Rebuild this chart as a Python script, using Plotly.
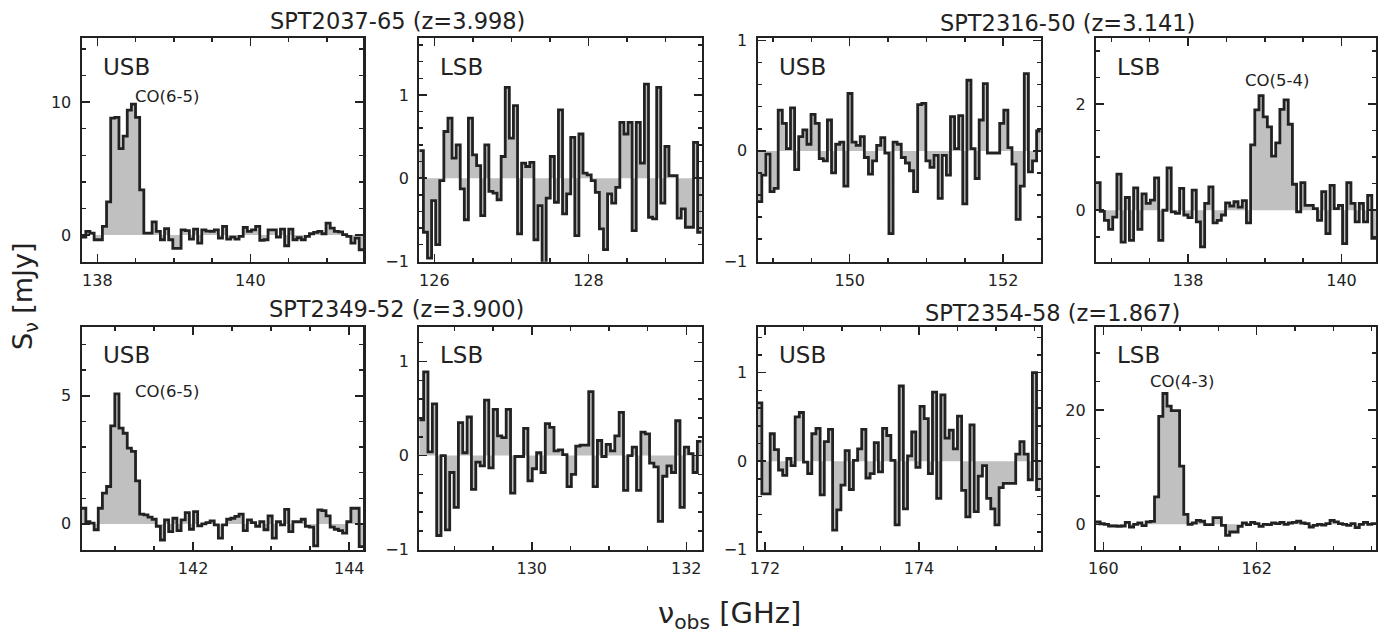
import plotly.graph_objects as go

W, H = 1385, 641

# ---------------- data (flux density per channel, mJy) ----------------
spt2037_usb = [-0.15, 0.28, 0.15, -0.35, -0.35, 0.65, 2.5, 8.8, 8.85, 6.5, 7.45, 9.4, 9.85, 8.85, 3.4,
               0.15, 0.15, 1.0, 0.28, -0.35, 0.48, -0.35, -1.0, -1.0, 0.4, 0.33, -0.3, 0.45, -0.6, 0.4,
               0.3, 0.28, 0.4, -0.22, 0.65, -0.3, -0.15, -0.3, -0.1, 0.58, 0.28, 0.4, 0.65, -0.4, -0.35,
               0.4, 0.4, -0.15, 0.45, -0.8, 0.45, -0.35, -0.2, -0.35, -0.1, 0.1, 0.2, 0.28, 0.1, 0.9,
               0.52, 0.28, 0.25, 0.03, -0.1, -0.6, -0.22, -1.1]
spt2037_lsb = [0.33, -0.65, -0.96, -0.27, -0.8, -0.03, 0.56, 0.72, 0.24, 0.4, -0.13, -0.5, 0.72, 0.28,
               0.15, -0.45, 0.4, -0.16, -0.18, -0.26, 0.26, 1.09, 0.48, 0.87, -0.67, 0.18, 0.14, 0.19,
               -0.74, -0.33, -1.02, -0.24, 0.26, -0.29, 0.82, -0.43, -0.19, 0.49, -0.69, 0.53, 0.06,
               0.04, -0.03, -0.17, -0.61, -0.86, -0.19, -0.3, -0.11, 0.67, 0.53, 0.67, -0.63, 0.67,
               0.18, 1.13, -0.47, -0.49, 1.09, -0.3, 0.38, 0.03, 0.03, -0.48, -0.37, -0.59, -0.59,
               0.43, -0.65]
spt2316_usb = [-0.46, -0.22, -0.03, -0.37, -0.34, 0.37, 0.25, 0.02, 0.39, -0.17, 0.13, 0.19, 0.06, 0.33,
               0.25, -0.07, -0.09, 0.28, -0.2, 0.06, 0.08, -0.32, 0.52, 0.08, 0.05, 0.13, -0.06, -0.21,
               -0.09, 0.05, 0.12, -0.02, -0.75, 0.08, 0.06, -0.06, -0.11, -0.18, -0.37, 0.42, 0.43,
               -0.09, -0.15, -0.04, -0.43, -0.04, -0.22, 0.31, 0.02, 0.32, -0.48, 0.64, 0.02, -0.25,
               0.28, 0.61, -0.02, -0.02, -0.02, 0.25, 0.37, 0.03, -0.12, -0.62, -0.32, 0.70, -0.19,
               -0.09, 0.18]
spt2316_lsb = [0.52, -0.02, -0.19, -0.36, -0.13, 0.68, -0.6, 0.24, -0.57, 0.42, -0.36, 0.31, 0.13, 0.19,
               0.61, -0.57, 0.0, 0.8, -0.03, -0.06, 0.41, -0.09, -0.14, 0.38, -0.22, -0.69, 0.13, 0.44,
               -0.24, -0.19, -0.09, 0.14, 0.08, 0.16, 0.06, 0.18, -0.24, 1.23, 1.89, 2.16, 1.76, 1.57,
               1.02, 1.27, 1.9, 2.08, 1.62, 0.49, -0.03, 0.52, 0.09, 0.09, 0.03, -0.19, 0.35, -0.44,
               0.47, 0.03, 0.09, -0.63, 0.52, 0.13, -0.22, 0.13, -0.22, 0.28, -0.53]
spt2349_usb = [0.61, 0.09, 0.03, -0.23, 0.61, 1.2, 1.46, 3.83, 5.08, 3.74, 3.54, 2.96, 2.83, 1.68, 0.38,
               0.35, 0.26, 0.18, -0.1, -0.63, 0.16, -0.3, 0.22, -0.26, 0.16, 0.44, -0.21, 0.48, -0.08,
               0.0, 0.05, 0.12, -0.04, -0.56, -0.04, 0.18, 0.22, 0.29, 0.38, -0.26, 0.16, 0.05, -0.1,
               0.09, -0.23, 0.31, -0.56, 0.09, -0.04, 0.57, -0.3, 0.09, 0.09, 0.18, -0.1, -0.13, -0.86,
               0.55, 0.52, 0.31, -0.13, -0.21, -0.26, -0.36, 0.09, 0.61, 0.61, -0.89]
spt2349_lsb = [0.38, 0.89, 0.04, 0.55, -0.85, 0.0, -0.79, -0.18, -0.55, 0.35, 0.03, 0.41, -0.36, -0.07,
               -0.11, 0.59, -0.13, 0.49, 0.21, 0.19, 0.49, -0.4, -0.01, -0.01, 0.29, -0.27, -0.14, 0.03,
               -0.18, 0.34, 0.30, 0.05, 0.06, 0.01, -0.33, -0.2, 0.1, 0.11, 0.11, 0.68, -0.33, 0.16,
               -0.01, 0.12, 0.05, 0.21, 0.46, -0.37, 0.0, 0.09, -0.37, 0.25, 0.23, -0.08, -0.12, -0.7,
               -0.22, -0.11, -0.18, 0.37, -0.55, 0.09, 0.02, -0.18, 0.15]
spt2354_usb = [0.66, -0.37, -0.37, 0.31, 0.13, -0.1, -0.16, 0.03, -0.05, 0.5, 0.55, -0.01, -0.14, 0.31,
               0.37, -0.38, 0.22, 0.36, -0.78, -0.55, -0.27, 0.12, -0.32, 0.01, 0.14, 0.36, -0.19, -0.14,
               0.21, -0.12, 0.37, 0.29, 0.01, -0.72, 0.85, -0.54, 0.06, 0.33, -0.07, 0.62, 0.48, -0.14,
               0.78, -0.42, 0.75, 0.26, 0.35, 0.14, 0.51, -0.33, -0.63, 0.41, -0.57, -0.17, -0.05, -0.42,
               -0.54, -0.72, -0.3, -0.25, -0.25, -0.25, 0.08, 0.22, 0.08, -0.21, 1.0, -0.32]
spt2354_lsb = [0.4, 0.1, 0.0, -0.3, -0.3, -0.35, -0.3, 0.35, -0.47, 0.0, 0.23, -0.23, 0.41, 0.5, 4.8,
               18.9, 22.9, 20.7, 19.9, 19.9, 10.2, 1.75, 0.0, 0.23, 0.7, 0.53, -0.06, -0.06, 1.17, 1.17,
               -0.18, -1.93, -1.35, -1.35, -0.35, 0.23, -0.06, 0.35, 0.12, -0.35, 0.0, -0.06, 0.23, 0.12,
               0.35, 0.0, 0.23, 0.35, 0.53, 0.23, 0.12, -0.47, -0.18, 0.0, -0.12, 0.12, 0.7, 0.41, 0.12,
               0.0, -0.18, 0.12, -0.59, 0.0, 0.35, 0.0, 0.12]

# frequency coverage of each spectral window (GHz)
freq_windows = {
    "spt2037_usb": (137.795, 141.477), "spt2037_lsb": (125.805, 129.470),
    "spt2316_usb": (148.800, 152.490), "spt2316_lsb": (136.800, 140.450),
    "spt2349_usb": (140.574, 144.180), "spt2349_lsb": (128.544, 132.200),
    "spt2354_usb": (171.905, 175.580), "spt2354_lsb": (159.904, 163.557),
}

sources = ["SPT2037-65 (z=3.998)", "SPT2316-50 (z=3.141)",
           "SPT2349-52 (z=3.900)", "SPT2354-58 (z=1.867)"]
line_labels = {"spt2037_usb": "CO(6-5)", "spt2316_lsb": "CO(5-4)",
               "spt2349_usb": "CO(6-5)", "spt2354_lsb": "CO(4-3)"}

# ---------------- layout helpers ----------------
FONT = "DejaVu Sans"
INK = "#222222"
FILL = "#c0c0c0"

def px(x):
    return x / W

def py(y):
    return 1 - y / H

col_px = [(81.7, 363.3), (419.3, 701.7), (757.7, 1040.7), (1096.0, 1376.0)]
row_px = [(38.3, 261.7), (326.7, 550.0)]

panels = [
    # key, data, row, col, band, y-range, y major, y minor
    ("spt2037_usb", spt2037_usb, 0, 0, "USB", (-2.0, 14.8), 10, 2),
    ("spt2037_lsb", spt2037_lsb, 0, 1, "LSB", (-1.004, 1.68), 1, 0.2),
    ("spt2316_usb", spt2316_usb, 0, 2, "USB", (-1.004, 1.02), 1, 0.2),
    ("spt2316_lsb", spt2316_lsb, 0, 3, "LSB", (-0.97, 3.24), 2, 0.5),
    ("spt2349_usb", spt2349_usb, 1, 0, "USB", (-1.02, 7.7), 5, 1),
    ("spt2349_lsb", spt2349_lsb, 1, 1, "LSB", (-1.004, 1.37), 1, 0.2),
    ("spt2354_usb", spt2354_usb, 1, 2, "USB", (-1.004, 1.52), 1, 0.2),
    ("spt2354_lsb", spt2354_lsb, 1, 3, "LSB", (-4.5, 34.6), 20, 5),
]

fig = go.Figure()
layout = dict(
    width=W, height=H, margin=dict(l=0, r=0, t=0, b=0, pad=0, autoexpand=False),
    paper_bgcolor="white", plot_bgcolor="white", showlegend=False,
    font=dict(family=FONT, color=INK, size=16),
)
annotations = []

for i, (key, vals, r, c, band, yr, ymaj, ymin_) in enumerate(panels):
    n = i + 1
    xa = "x" if n == 1 else f"x{n}"
    ya = "y" if n == 1 else f"y{n}"
    f_lo, f_hi = freq_windows[key]
    nch = len(vals)
    dch = (f_hi - f_lo) / nch
    edges = [f_lo + dch * k for k in range(nch + 1)]
    yy = list(vals) + [vals[-1]]
    fig.add_trace(go.Scatter(
        x=edges, y=yy, xaxis=xa, yaxis=ya, mode="lines",
        line=dict(shape="hv", color=INK, width=2.8),
        fill="tozeroy", fillcolor=FILL, hoverinfo="skip",
    ))
    x0, x1 = col_px[c]
    y0, y1 = row_px[r]
    common = dict(
        showgrid=False, zeroline=False, showline=True, linecolor=INK, linewidth=2.2,
        mirror="ticks", ticks="inside", ticklen=8, tickwidth=1.5, tickcolor=INK,
        tickfont=dict(family=FONT, size=16, color=INK), automargin=False,
    )
    layout["xaxis" if n == 1 else f"xaxis{n}"] = dict(
        common, domain=[px(x0), px(x1)], range=[f_lo, f_hi], anchor=ya,
        tick0=0, dtick=2, ticklabelstandoff=3,
        minor=dict(dtick=0.5, ticks="inside", ticklen=4, tickwidth=1.5, tickcolor=INK),
    )
    layout["yaxis" if n == 1 else f"yaxis{n}"] = dict(
        common, domain=[py(y1), py(y0)], range=list(yr), anchor=xa,
        tick0=0, dtick=ymaj, ticklabelstandoff=5,
        minor=dict(dtick=ymin_, ticks="inside", ticklen=4, tickwidth=1.5, tickcolor=INK),
    )
    annotations.append(dict(
        text=band, xref="paper", yref="paper", x=px(x0 + 19), y=py(y0 + 28.5),
        xanchor="left", yanchor="middle", showarrow=False,
        font=dict(family=FONT, size=23, color=INK),
    ))

label_pos = {"spt2037_usb": (132.7, 96), "spt2316_lsb": (1242.7, 80),
             "spt2349_usb": (132.7, 391), "spt2354_lsb": (1147.7, 381)}
for key, txt in line_labels.items():
    lx, ly = label_pos[key]
    annotations.append(dict(
        text=txt, xref="paper", yref="paper", x=px(lx), y=py(ly),
        xanchor="left", yanchor="middle", showarrow=False,
        font=dict(family=FONT, size=16.5, color=INK),
    ))

title_pos = [(397.5, 21), (1067, 23), (396, 309), (1052, 313)]
for txt, (tx, ty) in zip(sources, title_pos):
    annotations.append(dict(
        text=txt, xref="paper", yref="paper", x=px(tx), y=py(ty),
        xanchor="center", yanchor="middle", showarrow=False,
        font=dict(family=FONT, size=22.5, color=INK),
    ))

annotations.append(dict(
    text="ν<sub>obs</sub> [GHz]", xref="paper", yref="paper", x=px(729), y=py(615),
    xanchor="center", yanchor="middle", showarrow=False,
    font=dict(family=FONT, size=29, color=INK),
))
annotations.append(dict(
    text="S<sub>ν</sub> [mJy]", xref="paper", yref="paper", x=px(24), y=py(296),
    xanchor="center", yanchor="middle", showarrow=False, textangle=-90,
    font=dict(family=FONT, size=27, color=INK),
))

layout["annotations"] = annotations
fig.update_layout(**layout)
fig.write_html(
    "out.html",
    config={"displayModeBar": False, "staticPlot": True},
    post_script="document.body.style.margin='0';document.body.style.overflow='hidden';",
)
